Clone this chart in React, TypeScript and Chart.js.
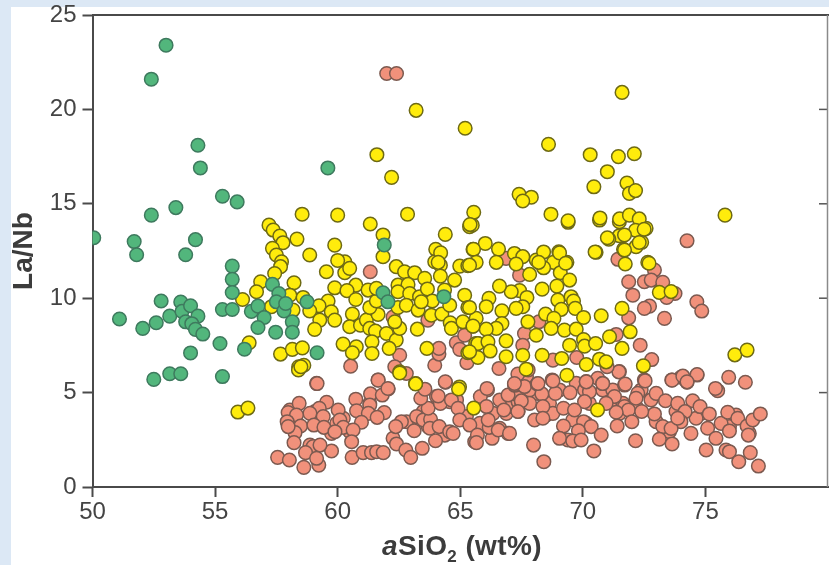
import React, { useEffect, useRef } from "react";
import { Chart, registerables } from "chart.js";

Chart.register(...registerables);

const greenPoints: number[][] = [
  [53.0,23.4],[52.4,21.6],[54.3,18.1],[54.4,16.9],[55.3,15.4],[55.9,15.1],[52.4,14.4],[53.4,14.8],[50.05,13.2],[51.7,13.0],
  [51.8,12.3],[53.8,12.3],[54.2,13.1],[59.6,16.9],[55.7,11.7],[55.7,11.0],[55.7,10.3],[52.8,9.85],[51.1,8.9],[52.05,8.4],
  [52.6,8.7],[53.15,9.05],[53.6,9.8],[53.65,9.3],[54.0,9.6],[54.3,9.05],[53.8,8.75],[54.05,8.65],[54.2,8.35],[54.5,8.1],
  [54.0,7.1],[55.2,7.6],[56.2,7.3],[55.3,9.4],[55.7,9.4],[52.5,5.7],[53.15,6.0],[53.6,6.0],[55.3,5.85],
  [56.48,9.3],[56.75,9.58],[57.0,8.98],[56.75,8.45],[57.47,8.2],[57.34,10.73],[57.6,10.25],[57.5,9.81],[57.81,9.33],
  [58.15,8.75],[58.15,8.2],[58.75,9.81],[59.16,7.11],[61.9,12.82],[61.85,10.29],[62.05,9.81],[64.33,10.08],[57.88,9.72]
];

const yellowPoints: number[][] = [
  [57.2,13.87],[57.37,13.61],[57.64,13.29],[57.77,12.94],[58.34,13.13],[57.34,12.64],[57.5,12.29],[57.71,11.93],[57.67,11.67],[57.43,11.31],
  [58.86,12.29],[59.88,12.81],[59.54,11.4],[60.29,11.93],[60.29,11.35],[60.49,11.58],[59.88,10.55],[58.22,10.82],[56.86,10.87],[56.69,10.34],
  [56.12,9.93],[58.05,10.16],[58.59,10.04],[59.61,9.85],[59.24,9.6],[58.86,9.33],[59.27,8.84],[59.74,9.28],[59.88,8.84],[59.06,8.35],
  [58.18,9.37],[57.3,9.55],[60.74,10.69],[60.38,10.4],[60.74,9.93],[60.6,9.16],[60.49,8.49],[60.93,8.57],[61.17,8.84],[61.31,8.4],
  [61.65,9.14],[61.31,9.51],[61.58,9.85],[61.24,10.43],[61.58,10.52],[61.54,8.26],[61.99,8.13],[61.4,7.69],[62.39,7.78],[62.53,8.4],
  [62.33,8.75],[63.25,8.36],[60.76,7.43],[60.22,7.57],[60.6,7.11],[61.4,7.07],[62.1,7.34],[57.67,7.04],[58.15,7.29],[58.56,7.37],
  [58.62,6.45],[58.41,6.37],[56.39,7.64],[62.53,6.1],[63.18,5.48],[63.64,7.34],[65.31,7.11],[65.63,7.6],[64.97,5.3],[61.85,13.35],
  [61.85,12.2],[61.33,13.93],[64.39,13.38],[65.38,13.79],[64.0,12.59],[63.96,11.93],[64.19,11.75],[64.19,11.17],[64.77,10.96],[64.98,11.7],
  [65.31,11.72],[65.52,12.59],[62.39,11.67],[62.73,11.4],[63.14,11.35],[63.55,11.05],[62.46,10.69],[62.87,10.73],[62.46,10.34],[62.94,10.25],
  [63.34,10.08],[63.66,10.49],[63.86,9.85],[62.46,9.51],[62.8,9.63],[63.28,9.37],[63.41,9.81],[63.82,9.1],[64.25,9.16],[64.57,9.63],
  [64.36,10.43],[65.18,10.16],[65.31,9.51],[64.59,8.7],[64.64,8.4],[65.11,8.75],[65.52,8.52],[65.72,7.6],
  [65.49,13.87],[69.4,14.02],[70.68,14.14],[71.49,14.05],[72.58,13.7],[71.49,13.31],[71.06,13.13],[72.4,12.96],[72.17,12.73],[71.66,12.59],
  [66.02,12.9],[65.54,12.59],[66.56,12.6],[70.54,12.43],[71.73,11.81],[72.65,11.9],[69.02,12.46],[68.8,11.9],[69.35,11.9],[68.1,12.02],
  [67.21,12.37],[67.55,12.2],[67.28,11.81],[67.83,11.26],[68.4,11.61],[69.08,11.35],[69.46,10.96],[68.94,10.64],[68.34,10.48],[67.42,10.4],
  [67.08,10.34],[66.6,10.64],[66.47,11.9],[65.65,11.9],[65.38,11.75],[66.17,9.99],[66.06,9.55],[67.72,10.04],[67.55,9.55],[67.28,9.46],
  [66.7,9.33],[68.98,9.9],[69.52,10.08],[69.62,9.85],[69.69,9.46],[69.12,9.41],[68.48,9.16],[68.82,8.93],[70.03,8.98],[70.75,9.07],
  [71.6,9.46],[73.12,10.31],[67.76,8.75],[66.7,8.66],[66.47,8.4],[66.06,8.36],[65.65,8.93],[65.52,8.52],[65.38,9.51],[68.71,8.4],
  [69.25,8.31],[69.73,8.36],[68.1,8.04],[66.87,7.74],[65.72,7.6],[66.13,7.69],[66.22,7.2],[66.87,6.9],[65.72,6.86],[65.38,7.16],
  [67.55,6.98],[67.69,6.24],[68.34,6.98],[69.14,6.81],[69.46,7.51],[70.03,7.81],[70.07,7.46],[70.52,7.6],[71.09,7.96],[71.93,8.22],
  [71.6,7.34],[70.14,6.49],[70.68,6.77],[70.95,6.63],[72.47,6.42],[69.35,5.92],
  [71.6,20.9],[68.6,18.15],[65.2,19.0],[63.2,19.95],[61.6,17.6],[62.2,16.4],[62.85,14.45],[58.55,14.45],[60.0,14.4],[65.55,14.55],
  [65.4,13.9],[67.4,15.5],[67.9,15.35],[67.55,15.15],[68.7,14.45],[69.4,14.1],[70.3,17.6],[70.45,15.9],[71.0,16.7],[71.45,17.5],
  [72.1,17.65],[71.8,16.1],[71.9,15.55],[72.15,15.7],[70.7,14.25],[75.8,14.4],[71.5,14.2],[71.9,14.4],[72.3,14.2],[72.15,13.6],
  [72.5,13.65],[71.7,13.35],[71.0,13.2],[72.3,12.95],[71.7,12.55],[70.5,12.45],[72.7,11.85],[73.6,10.35],[76.2,7.0],[76.7,7.25],
  [70.6,4.08],[63.18,5.46],[64.93,5.19],[65.55,4.18],[62.53,6.04],[58.4,6.2],[55.93,3.97],[56.34,4.18],[58.5,6.37],
  [64.2,12.4],[64.1,11.9],[68.4,12.45],[69.05,12.4],[68.2,11.9],[69.3,11.85],[60.0,12.0]
];

const redPoints: number[][] = [
  [58.05,4.08],[59.07,3.99],[59.96,3.37],[59.75,2.84],[60.5,2.93],[61.31,4.43],[60.23,3.64],[58.87,2.22],[58.26,3.2],[62.81,3.46],
  [63.49,3.99],[63.69,3.2],[64.57,4.52],[64.85,4.61],[64.03,4.79],[65.59,2.4],[66.61,3.11],[66.34,3.9],[66.88,3.9],[67.02,4.26],
  [67.29,5.14],[67.36,4.52],[64.37,2.75],[65.8,3.37],[65.25,3.73],
  [67.69,4.61],[68.16,4.96],[68.5,3.81],[68.64,4.43],[67.83,5.14],[69.05,5.14],[69.73,5.49],[70.27,4.43],[70.14,3.37],[69.59,3.55],
  [71.15,4.52],[71.63,4.43],[71.49,3.9],[72.38,5.14],[72.17,4.26],[72.99,3.46],[73.53,2.93],[73.8,4.0],[74.82,3.9],[74.62,3.64],
  [76.25,3.81],[76.79,2.84],[75.84,1.96],[75.98,3.2],[67.35,4.87],[68.78,3.9],[69.39,2.49],[70.81,5.14],[70.61,5.76],[70.07,5.14],
  [71.22,5.14],[72.24,4.96],[71.7,4.26],
  [59.14,5.49],[61.65,5.67],[62.06,5.19],[61.34,4.93],[61.82,4.87],[60.74,4.65],[61.31,4.34],[60.77,4.04],[61.25,3.9],[61.9,3.94],
  [61.61,3.69],[60.97,3.43],[58.43,4.43],[59.55,4.49],[59.25,4.17],[60.02,4.08],[57.98,3.94],[58.87,3.9],[58.32,3.81],[59.41,3.73],
  [57.94,3.46],[58.49,3.23],[59.03,3.28],[59.44,3.16],[60.09,3.55],[60.23,3.16],[59.89,2.93],[58.26,2.88],[57.98,3.2],[60.63,3.02],
  [60.57,2.4],[58.22,2.35],[59.0,2.14],[58.69,1.82],[59.75,1.91],[59.28,2.22],[57.55,1.57],[58.03,1.43],[58.62,1.04],[59.23,1.16],
  [59.14,1.52],[60.59,1.57],[61.04,1.82],[61.38,1.82],[61.59,1.87],[61.86,1.82],[62.26,2.58],[62.4,2.28],[62.78,1.96],[62.98,1.57],
  [63.45,2.05],[63.99,2.45],[62.6,3.46],[63.12,2.98],[62.37,3.2],[63.22,3.73],[63.49,3.55],[63.79,3.59],[63.76,3.11],[64.14,3.2],
  [63.69,4.17],[63.39,4.7],[63.56,5.18],[64.19,4.43],[64.1,4.82],[64.4,5.55],[64.64,4.61],[64.91,4.17],[64.98,3.55],[64.57,2.93],
  [64.71,2.84],[65.39,3.28],[65.7,2.75],[65.66,2.35],[66.3,2.58],[66.18,3.16],[66.95,2.84],[66.55,3.02],[66.11,5.14],[65.82,4.79],
  [66.07,4.26],[66.61,4.61],[66.95,4.87],[67.25,5.4],[66.78,4.08],[67.5,4.52],[67.7,5.85],[67.36,4.0],[67.77,6.2],[66.14,3.55],
  [73.63,5.67],[74.0,5.81],[74.25,5.55],[74.66,5.93],[75.95,5.81],[76.63,5.55],[75.5,5.1],[67.21,5.4],[67.62,5.32],[68.14,5.46],
  [68.75,5.67],[70.14,5.58],[70.81,5.49],[71.7,5.4],[72.51,5.67],[71.49,6.11],[68.33,4.93],[67.83,4.43],[67.49,4.56],[68.88,4.96],
  [69.48,5.0],[70.27,5.05],[71.29,4.79],[72.17,4.7],[72.78,4.61],[72.99,4.96],[73.37,4.57],[73.87,4.43],[74.48,4.57],[74.78,4.26],
  [75.16,3.87],[74.17,3.99],[72.92,3.87],[71.86,4.08],[71.36,3.96],[70.95,4.43],[70.07,4.52],[69.21,4.17],[69.66,4.08],[68.37,4.26],
  [67.35,4.0],[68.03,3.55],[68.37,3.64],[70.03,3.46],[70.34,3.2],[69.21,3.23],[69.82,2.98],[70.75,2.75],[71.4,3.23],[72.0,3.46],
  [72.4,4.0],[69.05,2.58],[69.59,2.44],[69.93,2.49],[72.15,2.45],[70.45,1.91],[73.26,3.2],[73.12,2.53],[73.64,2.28],[74.0,3.46],
  [74.41,2.84],[75.09,3.11],[75.43,2.58],[75.64,3.37],[75.91,3.96],[75.98,2.97],[76.32,3.64],[76.7,3.23],[76.93,3.55],[77.24,3.87],
  [76.75,2.75],[75.03,1.96],[75.98,1.87],[76.83,1.82],[76.36,1.34],[77.16,1.11],[67.99,2.22],[68.41,1.34],[67.01,2.84],[73.6,3.1],
  [73.87,3.64],
  [74.25,13.04],[71.43,12.06],[71.87,10.87],[72.04,10.16],[72.51,10.87],[72.92,11.49],[72.79,10.96],[73.26,10.84],[73.76,10.25],[73.42,10.04],
  [74.65,9.81],[74.85,9.32],[72.72,9.58],[72.51,9.46],[71.87,8.96],[73.33,8.93],[71.36,8.08],[72.34,7.51],[72.81,6.75],[71.47,6.1],
  [70.99,6.37],[72.54,5.62],[73.64,5.66],[74.08,5.87],[74.66,5.96],[74.25,5.57],[75.41,5.22],[67.62,8.13],[67.55,7.51],[68.21,8.75],
  [66.58,6.28],[69.75,6.86],[68.78,6.72],[67.35,5.98],[67.21,5.48],[68.17,5.48],[68.78,5.62],[70.14,5.57],[70.81,5.48],[71.73,5.45],
  [66.09,5.22],[67.42,11.22],[66.87,12.11],
  [61.33,11.4],[62.53,6.98],[60.53,6.4],[59.16,5.48],[63.96,6.45],[64.13,7.04],[64.13,7.34],[64.84,7.64],[64.98,7.29],[65.27,6.58],
  [65.18,8.04],[64.39,5.57],[61.65,5.66],[62.05,5.22],[63.68,8.84],[62.8,6.01],[62.33,6.37],[62.26,9.0],
  [62.0,21.9],[62.4,21.9]
];

const xTitleParts = { italic: "a", main: "SiO", sub: "2", rest: " (wt%)" };
const yTitle = "La/Nb";

const toXY = (rows: number[][]) => rows.map(([x, y]) => ({ x, y }));

const rightTicks = {
  id: "rightTicks",
  afterDatasetsDraw(chart: any) {
    const { ctx, chartArea, scales } = chart;
    ctx.save();
    ctx.strokeStyle = "#555555";
    ctx.lineWidth = 1.5;
    for (const t of scales.y.ticks) {
      if (t.value === 0 || t.value === 25) continue;
      const py = scales.y.getPixelForValue(t.value);
      ctx.beginPath();
      ctx.moveTo(chartArea.right - 9, py);
      ctx.lineTo(chartArea.right, py);
      ctx.stroke();
    }
    ctx.strokeStyle = "#8a8a8a";
    ctx.beginPath();
    ctx.moveTo(chartArea.right - 0.5, chartArea.top);
    ctx.lineTo(chartArea.right - 0.5, chartArea.bottom);
    ctx.stroke();
    ctx.restore();
  },
};

export default function App() {
  const ref = useRef<HTMLCanvasElement | null>(null);
  useEffect(() => {
    document.body.style.margin = "0";
    const font = { family: "'Liberation Sans', Arial, sans-serif", size: 24 };
    const chart = new Chart(ref.current!, {
      type: "scatter",
      data: {
        datasets: [
          { label: "green", data: toXY(greenPoints), backgroundColor: "#52b67c", borderColor: "#3e7a5e", borderWidth: 1.5, pointRadius: 6.8 },
          { label: "yellow", data: toXY(yellowPoints), backgroundColor: "#ffec0c", borderColor: "#6e6a14", borderWidth: 1.5, pointRadius: 6.8 },
          { label: "red", data: toXY(redPoints), backgroundColor: "#f1917b", borderColor: "#7c5a50", borderWidth: 1.5, pointRadius: 6.8 },
        ],
      },
      options: {
        responsive: false,
        animation: false,
        layout: { autoPadding: false, padding: { top: 15, right: 1, left: 0, bottom: 0 } },
        plugins: { legend: { display: false }, tooltip: { enabled: false } },
        scales: {
          x: {
            type: "linear",
            min: 50,
            max: 80,
            afterBuildTicks: (axis: any) => {
              axis.ticks = axis.ticks.filter((t: any) => t.value < 80);
            },
            afterFit: (s: any) => { s.height = 78; s.paddingLeft = 0; s.paddingRight = 0; },
            ticks: { stepSize: 5, color: "#444444", font, padding: 1, maxRotation: 0, autoSkip: false },
            grid: { drawOnChartArea: false, drawTicks: true, tickLength: 10, tickColor: "#4a4a4a", tickWidth: 2 },
            border: { display: true, color: "#4a4a4a", width: 2 },
          },
          y: {
            type: "linear",
            min: 0,
            max: 25,
            afterFit: (s: any) => { s.width = 92.5; s.paddingTop = 0; s.paddingBottom = 0; },
            ticks: { stepSize: 5, color: "#444444", font, padding: 6 },
            grid: { drawOnChartArea: false, drawTicks: true, tickLength: 10, tickColor: "#4a4a4a", tickWidth: 2 },
            border: { display: true, color: "#4a4a4a", width: 2 },
            title: {
              display: true,
              text: yTitle,
              color: "#3c3c3c",
              font: { ...font, weight: "bold", size: 28 },
              padding: { top: 7, bottom: 0 },
            },
          },
          top: {
            type: "linear",
            position: "top",
            min: 50,
            max: 80,
            display: true,
            afterFit: (s: any) => { s.height = 0; s.paddingLeft = 0; s.paddingRight = 0; },
            ticks: { display: false },
            grid: { display: false, drawTicks: false },
            border: { display: true, color: "#4a4a4a", width: 2 },
          },
        },
      } as any,
      plugins: [rightTicks],
    });
    return () => chart.destroy();
  }, []);

  return (
    <div style={{ position: "absolute", left: 0, top: 0, width: 829, height: 565, background: "#dce8f5", overflow: "hidden" }}>
      <div style={{ position: "absolute", left: 11, top: 7, right: 0, bottom: 0, background: "#ffffff" }} />
      <canvas ref={ref} width={829} height={565} style={{ position: "absolute", left: 0, top: 0, display: "block" }} />
      <div
        style={{
          position: "absolute",
          left: 262,
          width: 400,
          top: 530,
          textAlign: "center",
          color: "#3c3c3c",
          fontFamily: "'Liberation Sans', Arial, sans-serif",
          fontWeight: "bold",
          fontSize: 28,
          letterSpacing: 0.4,
          lineHeight: "32px",
          whiteSpace: "pre",
        }}
      >
        <i>{xTitleParts.italic}</i>
        {xTitleParts.main}
        <sub style={{ fontSize: 17, lineHeight: 0 }}>{xTitleParts.sub}</sub>
        {xTitleParts.rest}
      </div>
    </div>
  );
}
